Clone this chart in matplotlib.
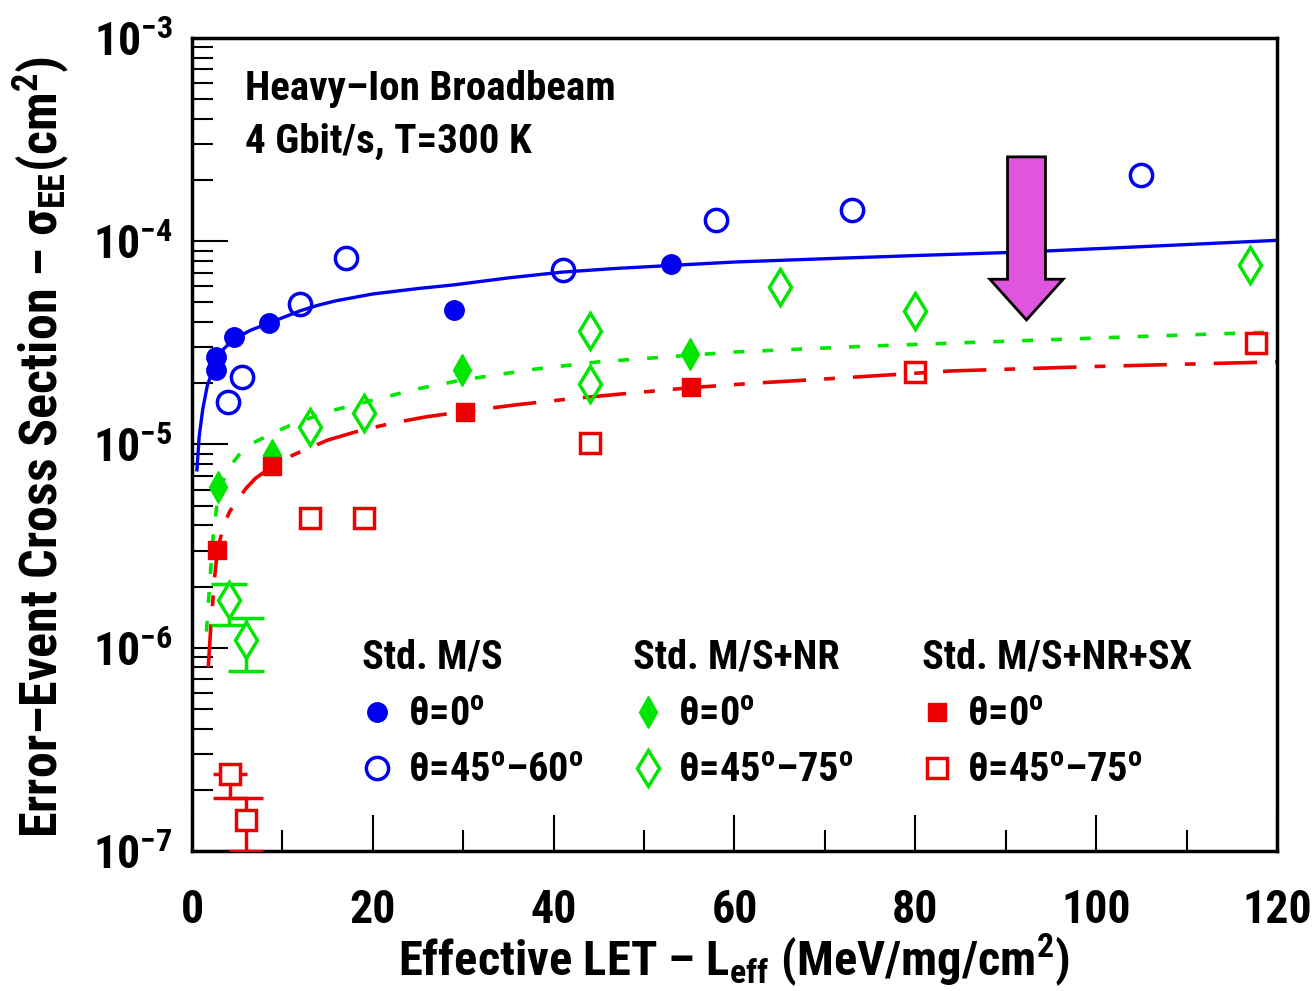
import matplotlib
matplotlib.use("Agg")
import matplotlib.pyplot as plt
from matplotlib import font_manager
from matplotlib.patches import Polygon
from matplotlib.ticker import LogLocator, NullFormatter, MultipleLocator

# --- dados ---
ms_0_x = [2.65, 2.65, 4.65, 8.5, 29, 53]
ms_0_y = [2.7e-5, 2.33e-5, 3.38e-5, 3.96e-5, 4.6e-5, 7.7e-5]
ms_45_x = [4.0, 5.5, 11.9, 17, 41, 58, 73, 105]
ms_45_y = [1.62e-5, 2.15e-5, 4.9e-5, 8.3e-5, 7.2e-5, 1.27e-4, 1.43e-4, 2.12e-4]

nr_0_x = [2.9, 8.85, 29.9, 55.1]
nr_0_y = [6.2e-6, 8.9e-6, 2.33e-5, 2.79e-5]
nr_45_x = [13, 19, 44, 44, 65, 80, 117]
nr_45_y = [1.22e-5, 1.43e-5, 3.6e-5, 1.99e-5, 5.96e-5, 4.54e-5, 7.6e-5]
nr_45_err_x = [4.1, 6.0]
nr_45_err_y = [1.72e-6, 1.09e-6]
nr_45_err_lo = [1.30e-6, 0.77e-6]
nr_45_err_hi = [2.06e-6, 1.40e-6]

sx_0_x = [2.8, 8.85, 30.2, 55.2]
sx_0_y = [3.03e-6, 7.8e-6, 1.44e-5, 1.92e-5]
sx_45_x = [13, 19, 44, 80, 117.7]
sx_45_y = [4.35e-6, 4.35e-6, 1.02e-5, 2.28e-5, 3.16e-5]
sx_45_err_x = [4.2, 6.0]
sx_45_err_y = [2.39e-7, 1.42e-7]
sx_45_err_lo = [1.82e-7, 1.0e-7]
sx_45_err_hi = [2.39e-7, 1.82e-7]

# curvas de ajuste
fit_ms_x = [0.55, 0.8, 1.2, 1.7, 2.2, 2.65, 3.5, 4.65, 6.5, 8.5, 10, 12, 14, 16, 20, 25, 29,
            35, 41, 47, 53, 60, 70, 80, 92, 105, 120]
fit_ms_y = [7.5e-6, 1.1e-5, 1.5e-5, 1.95e-5, 2.25e-5, 2.5e-5, 2.95e-5, 3.3e-5, 3.65e-5,
            3.95e-5, 4.2e-5, 4.55e-5, 4.85e-5, 5.1e-5, 5.5e-5, 5.85e-5, 6.1e-5, 6.6e-5,
            7.05e-5, 7.35e-5, 7.6e-5, 7.9e-5, 8.2e-5, 8.5e-5, 8.85e-5, 9.4e-5, 1.01e-4]
fit_nr_x = [1.6, 2.0, 2.4, 2.9, 3.5, 4.2, 5.3, 7.0, 8.85, 11, 15, 20, 25, 30, 38, 45, 60,
            75, 90, 105, 120]
fit_nr_y = [1.2e-6, 2.2e-6, 3.8e-6, 5.6e-6, 6.7e-6, 7.8e-6, 9.0e-6, 1.03e-5, 1.13e-5,
            1.25e-5, 1.45e-5, 1.65e-5, 1.88e-5, 2.08e-5, 2.35e-5, 2.55e-5, 2.85e-5,
            3.05e-5, 3.22e-5, 3.4e-5, 3.58e-5]
fit_sx_x = [1.8, 2.1, 2.5, 2.8, 3.5, 4.2, 5.0, 6.0, 7.0, 8.85, 10.5, 12, 15, 18, 22, 26, 30,
            36, 42, 48, 55, 62, 70, 84, 100, 120]
fit_sx_y = [8.0e-7, 1.3e-6, 2.2e-6, 3.0e-6, 4.0e-6, 4.7e-6, 5.3e-6, 6.1e-6, 6.8e-6, 7.8e-6,
            8.6e-6, 9.2e-6, 1.05e-5, 1.15e-5, 1.27e-5, 1.37e-5, 1.45e-5, 1.57e-5, 1.68e-5,
            1.78e-5, 1.9e-5, 2.0e-5, 2.1e-5, 2.3e-5, 2.42e-5, 2.55e-5]

# seta magenta (x da ponta, largura do corpo, largura da cabeça, y topo, y base da cabeça, y ponta)
seta = dict(x=92.3, corpo=2.1, cabeca=4.05, topo=2.6e-4, base=6.5e-5, ponta=4.1e-5)

# --- fonte ---
nomes = {f.name for f in font_manager.fontManager.ttflist}
fonte = "DejaVu Sans"
for n in ["Liberation Sans Narrow", "Roboto Condensed", "Liberation Sans"]:
    if n in nomes:
        fonte = n
        break
plt.rcParams["font.family"] = [fonte, "DejaVu Sans"]
plt.rcParams["font.weight"] = "bold"
plt.rcParams["mathtext.fontset"] = "custom"
plt.rcParams["mathtext.rm"] = fonte + ":bold"
plt.rcParams["mathtext.it"] = fonte + ":bold"
plt.rcParams["mathtext.bf"] = fonte + ":bold"

AZUL = "#0000EE"
VERDE = "#00E600"
VERMELHO = "#EE0000"

fig = plt.figure(figsize=(13.14, 9.91), dpi=100)
ax = fig.add_axes([0.1461, 0.1413, 0.8257, 0.8204])

# curvas
ax.plot(fit_ms_x, fit_ms_y, color=AZUL, lw=2.4, zorder=2)
ax.plot(fit_nr_x, fit_nr_y, color=VERDE, lw=2.6, dashes=(3, 5), zorder=2)
ax.plot(fit_sx_x, fit_sx_y, color=VERMELHO, lw=2.6, dashes=(12, 5, 3, 5), zorder=2)

# pontos
ax.plot(ms_0_x, ms_0_y, "o", color=AZUL, ms=14, ls="none", zorder=4)
ax.plot(ms_45_x, ms_45_y, "o", mec=AZUL, mfc="none", mew=2.5, ms=16, ls="none", zorder=4)
ax.plot(nr_0_x, nr_0_y, "d", color=VERDE, ms=16, ls="none", zorder=4)
ax.plot(nr_45_x, nr_45_y, "d", mec=VERDE, mfc="none", mew=2.5, ms=18, ls="none", zorder=4)
ax.plot(sx_0_x, sx_0_y, "s", color=VERMELHO, ms=13, ls="none", zorder=4)
ax.plot(sx_45_x, sx_45_y, "s", mec=VERMELHO, mfc="none", mew=2.5, ms=15, ls="none", zorder=4)

ylo = [y - lo for y, lo in zip(nr_45_err_y, nr_45_err_lo)]
yhi = [hi - y for y, hi in zip(nr_45_err_y, nr_45_err_hi)]
ax.errorbar(nr_45_err_x, nr_45_err_y, yerr=[ylo, yhi], fmt="d", mec=VERDE, mfc="white",
            mew=2.5, ms=18, ecolor=VERDE, elinewidth=2.5, capsize=13, capthick=2.5, zorder=4)
ylo = [y - lo for y, lo in zip(sx_45_err_y, sx_45_err_lo)]
yhi = [hi - y for y, hi in zip(sx_45_err_y, sx_45_err_hi)]
ax.errorbar(sx_45_err_x, sx_45_err_y, yerr=[ylo, yhi], fmt="s", mec=VERMELHO, mfc="white",
            mew=2.5, ms=15, ecolor=VERMELHO, elinewidth=2.5, capsize=12, capthick=2.5,
            zorder=4, clip_on=True)

# seta
s = seta
ax.add_patch(Polygon([
    (s["x"] - s["corpo"], s["topo"]), (s["x"] + s["corpo"], s["topo"]),
    (s["x"] + s["corpo"], s["base"]), (s["x"] + s["cabeca"], s["base"]),
    (s["x"], s["ponta"]), (s["x"] - s["cabeca"], s["base"]),
    (s["x"] - s["corpo"], s["base"])],
    closed=True, facecolor="#E055DD", edgecolor="black", lw=2, zorder=5))

# eixos
ax.set_yscale("log")
ax.set_xlim(0, 120)
ax.set_ylim(1e-7, 1e-3)
ax.xaxis.set_major_locator(MultipleLocator(20))
ax.xaxis.set_minor_locator(MultipleLocator(10))
ax.yaxis.set_major_locator(LogLocator(base=10, numticks=10))
ax.yaxis.set_minor_locator(LogLocator(base=10, subs=range(2, 10), numticks=20))
ax.yaxis.set_minor_formatter(NullFormatter())
ax.set_yticks([1e-7, 1e-6, 1e-5, 1e-4, 1e-3])
ax.set_yticklabels([r"10$^{-7}$", r"10$^{-6}$", r"10$^{-5}$", r"10$^{-4}$", r"10$^{-3}$"])

ax.tick_params(which="both", direction="in", top=False, right=False, width=1.5)
ax.tick_params(which="major", length=26)
ax.tick_params(which="minor", length=15)
ax.tick_params(axis="x", which="major", labelsize=33, pad=27)
ax.tick_params(axis="y", which="major", labelsize=33, pad=14)
for sp in ax.spines.values():
    sp.set_linewidth(2.5)

fig.text(0.5587, 0.003, r"Effective LET – L$_{\rm eff}$ (MeV/mg/cm$^2$)",
         ha="center", va="bottom", fontsize=35, fontweight="bold")
fig.text(0.008, 0.549, r"Error–Event Cross Section – σ$_{\rm EE}$(cm$^2$)",
         ha="left", va="center", rotation=90, fontsize=37.5, fontweight="bold")

# textos
ax.text(0.0488, 0.924, "Heavy–Ion Broadbeam", transform=ax.transAxes, fontsize=29.5,
        fontweight="bold", va="baseline")
ax.text(0.0488, 0.8585, "4 Gbit/s, T=300 K", transform=ax.transAxes, fontsize=29.5,
        fontweight="bold", va="baseline")

# legenda manual
colunas = [
    ("Std. M/S", 0.1567, 0.1705, 0.199,
     dict(marker="o", color=AZUL, ms=14), dict(marker="o", mec=AZUL, mfc="none", mew=2.5, ms=16),
     r"θ=45$^{\rm o}$–60$^{\rm o}$"),
    ("Std. M/S+NR", 0.4065, 0.4203, 0.448,
     dict(marker="d", color=VERDE, ms=16), dict(marker="d", mec=VERDE, mfc="none", mew=2.5, ms=18),
     r"θ=45$^{\rm o}$–75$^{\rm o}$"),
    ("Std. M/S+NR+SX", 0.6728, 0.6866, 0.7143,
     dict(marker="s", color=VERMELHO, ms=13), dict(marker="s", mec=VERMELHO, mfc="none", mew=2.5, ms=15),
     r"θ=45$^{\rm o}$–75$^{\rm o}$"),
]
for titulo, xt, xm, xl, m1, m2, rot2 in colunas:
    ax.text(xt, 0.225, titulo, transform=ax.transAxes, fontsize=29, fontweight="bold",
            va="baseline")
    ax.plot([xm], [0.171], transform=ax.transAxes, ls="none", clip_on=False, **m1)
    ax.plot([xm], [0.102], transform=ax.transAxes, ls="none", clip_on=False, **m2)
    ax.text(xl, 0.1538, r"θ=0$^{\rm o}$", transform=ax.transAxes, fontsize=29,
            fontweight="bold", va="baseline")
    ax.text(xl, 0.0849, rot2, transform=ax.transAxes, fontsize=29, fontweight="bold",
            va="baseline")

fig.savefig("out.png", dpi=100)
